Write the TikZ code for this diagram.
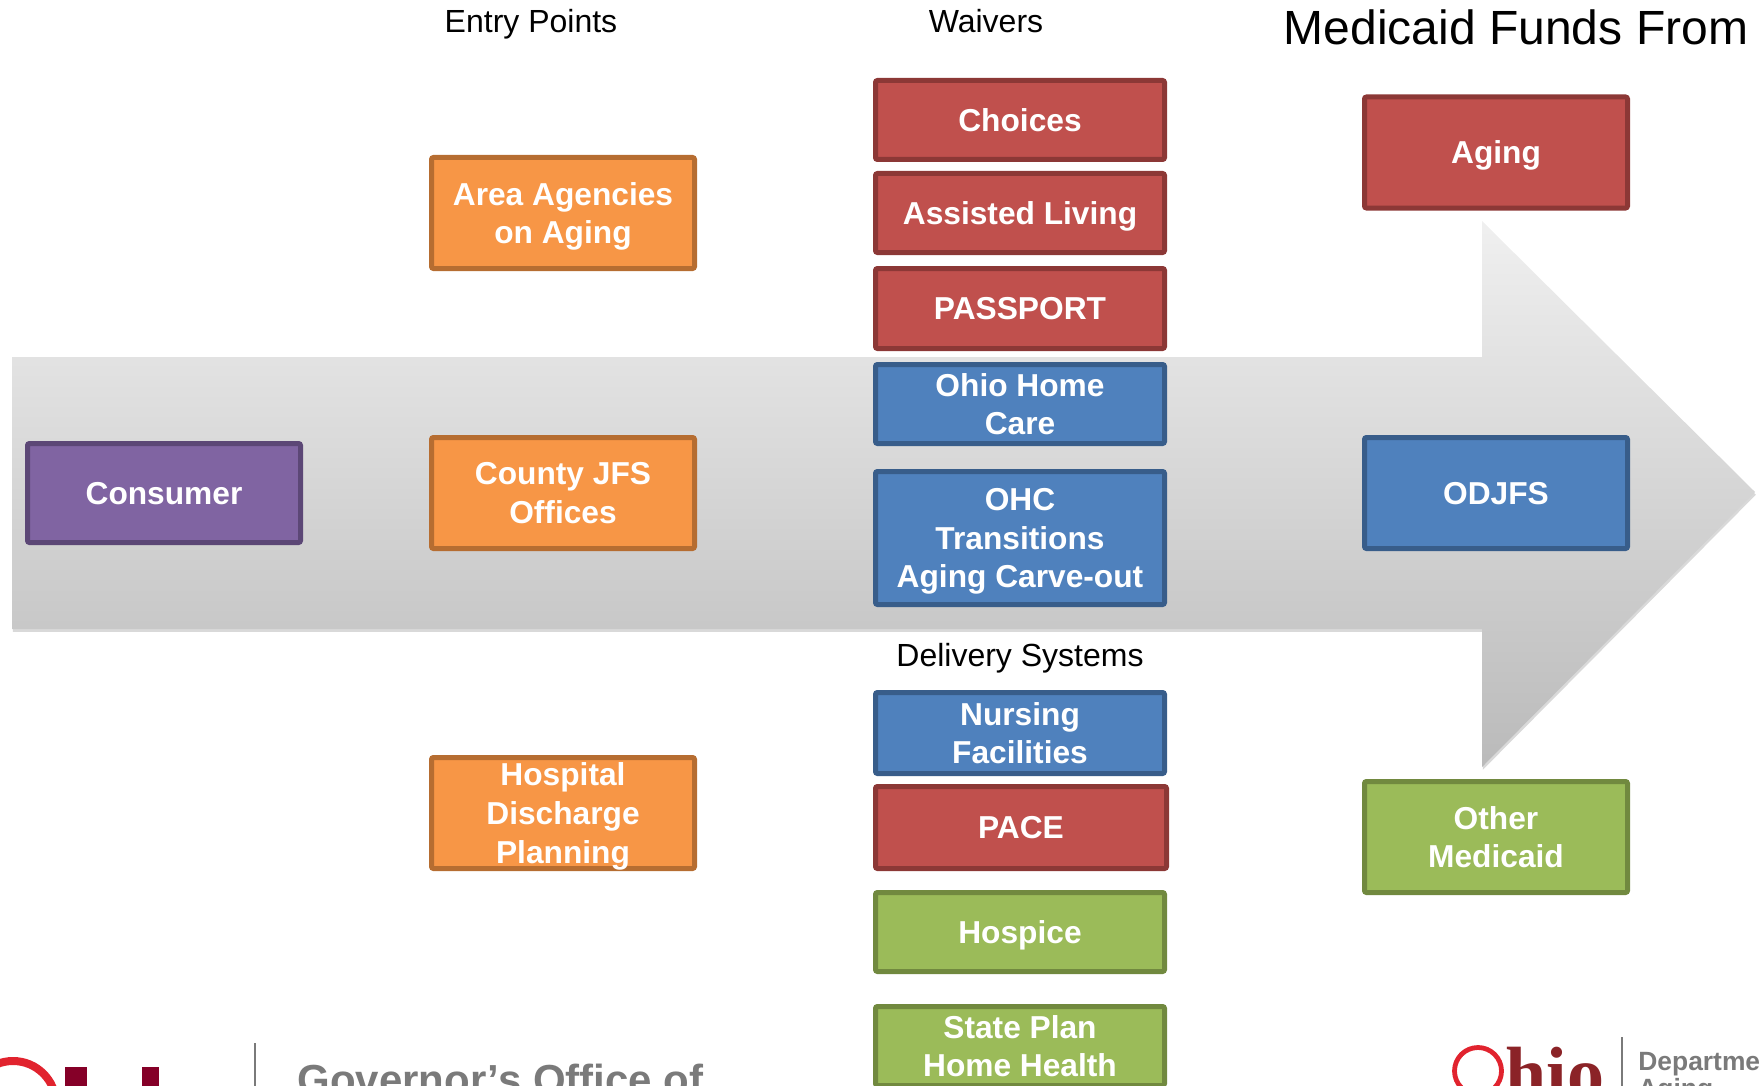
\documentclass[tikz,border=0pt]{standalone}
\usepackage{fontspec}
\setmainfont{Liberation Sans}
\newfontfamily\logofont{Liberation Serif}
\usetikzlibrary{positioning,shadows}

\definecolor{redfill}{HTML}{C0504D}
\definecolor{redline}{HTML}{8C3836}
\definecolor{orangefill}{HTML}{F79646}
\definecolor{orangeline}{HTML}{B66D31}
\definecolor{bluefill}{HTML}{4F81BD}
\definecolor{blueline}{HTML}{385D8A}
\definecolor{purplefill}{HTML}{8064A2}
\definecolor{purpleline}{HTML}{5C4776}
\definecolor{greenfill}{HTML}{9BBB59}
\definecolor{greenline}{HTML}{71893F}
\definecolor{logogray}{HTML}{7A7A7A}
\definecolor{logored}{HTML}{8B2327}
\definecolor{logowine}{HTML}{850028}
\definecolor{ringred}{HTML}{E1232E}

\tikzset{
  every box/.style={draw, rectangle, rounded corners=1pt, line width=2.5pt, align=center, inner sep=0pt,
    text depth=-2pt, text=white, font=\fontsize{15.85}{19.3}\selectfont\bfseries},
  red box/.style={fill=redfill, draw=redline},
  orange box/.style={fill=orangefill, draw=orangeline},
  blue box/.style={fill=bluefill, draw=blueline},
  purple box/.style={fill=purplefill, draw=purpleline},
  green box/.style={fill=greenfill, draw=greenline},
  heading/.style={inner sep=0pt, font=\fontsize{16}{19}\selectfont}
}

\begin{document}
\begin{tikzpicture}[x=0.5pt, y=-0.5pt]

\clip [use as bounding box] (0,0) rectangle (1762,1086);

% big arrow behind everything
\path [top color=black!6, bottom color=black!27, drop shadow={shadow xshift=0.4pt, shadow yshift=-1.4pt, opacity=0.3}]
  (12,357) -- (1482,357) -- (1482,221) -- (1755,492) -- (1482,767) -- (1482,629) -- (12,629) -- cycle;

\node [every box, purple box, minimum width=136.5pt, minimum height=49.5pt] (consumer) at (164,493) {Consumer};

% entry points
\foreach \n/\l/\y in {agencies/{Area Agencies\\on Aging}/213, county/{County JFS\\Offices}/493, hospital/{Hospital\\Discharge\\Planning}/813}
  \node [every box, orange box, minimum width=131.5pt, minimum height=55.5pt] (entry-\n) at (563,\y) {\l};

% waivers and delivery systems
\foreach \n/\l/\y/\h/\c in {choices/Choices/120/39.5/red,
    assisted/Assisted Living/213/39.5/red,
    passport/PASSPORT/308.5/40/red,
    homecare/{Ohio Home\\Care}/404/39.5/blue,
    transitions/{OHC\\Transitions\\Aging Carve-out}/538/66.5/blue,
    nursing/{Nursing\\Facilities}/733/40.5/blue,
    hospice/Hospice/932/39.5/green,
    stateplan/{State Plan\\Home Health}/1046/39.5/green}
  \node [every box, \c\space box, minimum width=144.5pt, minimum height=\h pt] (waiver-\n) at (1020,\y) {\l};

\node [every box, red box, minimum width=145.5pt, minimum height=41pt] (waiver-pace) at (1021,827.5) {PACE};

% funds
\foreach \n/\l/\y/\c in {aging/Aging/152.5/red, odjfs/ODJFS/493/blue, other/{Other\\Medicaid}/837/green}
  \node [every box, \c\space box, minimum width=131.5pt, minimum height=55.5pt] (fund-\n) at (1496,\y) {\l};

\node [heading] (head-entry) at (531,24) {Entry Points};
\node [heading] (head-waivers) at (986,21) {Waivers};
\node [heading] (head-delivery) at (1020,658) {Delivery Systems};
\node [inner sep=0pt, font=\fontsize{24}{28}\selectfont] (head-funds) at (1516,27) {Medicaid Funds From};

% left logo
\draw [line width=4pt, color=ringred] (13,1104) circle [radius=43];
\fill [logowine] (65,1067) rectangle (87,1086);
\fill [logowine] (142,1067) rectangle (159,1086);
\draw [logogray, line width=1.2pt] (255,1043) -- (255,1086);
\node [anchor=base west, inner sep=0pt, text=logogray, font=\fontsize{21}{25}\selectfont\bfseries] (logo-left-text) at (297,1094) {Governor’s Office of};

% right logo
\draw [line width=2.4pt, color=ringred] (1478,1071) circle [radius=23.5];
\node [anchor=base west, inner sep=0pt, text=logored, font=\fontsize{37}{37}\selectfont\logofont\bfseries] (logo-right) at (1505,1098) {hio};
\draw [logogray, line width=1pt] (1622,1037) -- (1622,1086);
\node [anchor=base west, inner sep=0pt, text=logogray, font=\fontsize{13.2}{13}\selectfont\bfseries] (logo-right-top) at (1638,1070) {Departme};
\node [anchor=base west, inner sep=0pt, text=logogray, font=\fontsize{13.2}{13}\selectfont\bfseries] (logo-right-bottom) at (1638,1097) {Aging};

\end{tikzpicture}
\end{document}
